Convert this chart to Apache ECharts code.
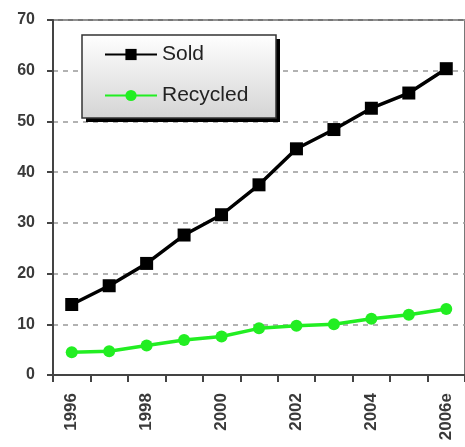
<!DOCTYPE html>
<html>
<head>
<meta charset="utf-8">
<script src="https://cdn.jsdelivr.net/npm/echarts@6/dist/echarts.min.js"></script>
<style>
html,body{margin:0;padding:0;background:#fff;}
#chart{width:465px;height:447px;}
</style>
</head>
<body>
<div id="chart"></div>
<script>
const categories = ['1996','1997','1998','1999','2000','2001','2002','2003','2004','2005','2006e'];
const soldValues = [13.9, 17.6, 22.0, 27.6, 31.6, 37.5, 44.6, 48.4, 52.6, 55.6, 60.4];
const recycledValues = [4.5, 4.7, 5.8, 6.9, 7.6, 9.2, 9.7, 10.0, 11.1, 11.9, 13.0];
const yTicks = [0, 10, 20, 30, 40, 50, 60, 70];

const chart = echarts.init(document.getElementById('chart'), null, {renderer: 'canvas'});
const labelFont = {fontFamily: 'Liberation Sans', fontWeight: 'bold', fontSize: 16, color: '#3a3a3a'};

chart.setOption({
  animation: false,
  backgroundColor: '#fff',
  grid: {left: 53, top: 20, width: 418, height: 355, containLabel: false,
         show: true, borderColor: '#777', borderWidth: 2, backgroundColor: 'transparent'},
  graphic: [
    {
      type: 'rect', z: 3, silent: true,
      shape: {x: 86, y: 39, width: 194, height: 83},
      style: {fill: '#000'}
    },
    {
      type: 'rect', z: 3, silent: true,
      shape: {x: 82, y: 35, width: 194, height: 83},
      style: {
        fill: new echarts.graphic.LinearGradient(0, 0, 0, 1, [
          {offset: 0, color: '#ffffff'}, {offset: 1, color: '#d4d4d4'}
        ]),
        stroke: '#333', lineWidth: 1.5
      }
    }
  ],
  legend: {
    orient: 'vertical',
    left: 104, top: 44,
    padding: 0,
    itemGap: 20,
    itemWidth: 52, itemHeight: 14,
    textStyle: {fontFamily: 'Liberation Sans', fontSize: 21, color: '#222'},
    backgroundColor: 'transparent',
    z: 5,
    data: ['Sold', 'Recycled']
  },
  xAxis: {
    type: 'category',
    data: categories,
    boundaryGap: true,
    axisLine: {lineStyle: {color: '#444', width: 2}},
    axisTick: {show: true, interval: 0, length: 7, lineStyle: {color: '#444', width: 2}},
    axisLabel: Object.assign({}, labelFont, {rotate: 90, interval: 1, margin: 18, fontSize: 17}),
    splitLine: {show: false}
  },
  yAxis: {
    type: 'value',
    min: yTicks[0], max: yTicks[yTicks.length - 1], interval: 10,
    axisLine: {show: true, lineStyle: {color: '#444', width: 2}},
    axisTick: {show: true, length: 6, lineStyle: {color: '#444', width: 2}},
    axisLabel: Object.assign({margin: 18}, labelFont),
    splitLine: {show: true, lineStyle: {color: '#999', width: 1.5, type: [5, 5]}}
  },
  series: [
    {
      name: 'Sold', type: 'line', data: soldValues,
      symbol: 'rect', symbolSize: 13,
      lineStyle: {color: '#000', width: 3.5},
      itemStyle: {color: '#000'}
    },
    {
      name: 'Recycled', type: 'line', data: recycledValues,
      symbol: 'circle', symbolSize: 12,
      lineStyle: {color: '#22ee22', width: 3.5},
      itemStyle: {color: '#22ee22'}
    }
  ]
});
</script>
</body>
</html>
